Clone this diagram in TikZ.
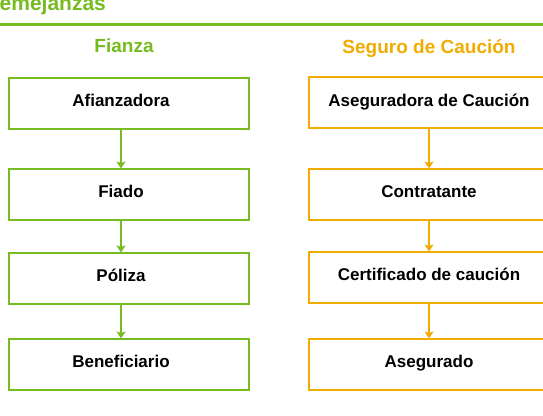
\documentclass[tikz,border=0pt]{standalone}
\usepackage{fontspec}
\setmainfont{Liberation Sans}
\usetikzlibrary{arrows.meta}
\definecolor{fianzagreen}{RGB}{118,188,33}
\definecolor{caugold}{RGB}{240,172,0}
\begin{document}
\begin{tikzpicture}[x=1pt, y=-1pt, >={Stealth[length=7pt, width=9pt, inset=1.5pt]},
    box/.style={rectangle, draw, line width=2pt, minimum width=240pt, minimum height=51pt, inner sep=0pt},
    link/.style={->, line width=2.4pt, shorten >=-1pt},
    txt/.style={anchor=base, inner sep=0pt, font=\bfseries\fontsize{17}{20}\selectfont},
    head/.style={anchor=base, inner sep=0pt, font=\bfseries\fontsize{19}{22}\selectfont}]
    \useasboundingbox (0,0) rectangle (543,415);
    \clip (0,0) rectangle (543,415);
    % title
    \node[anchor=base west, inner sep=0pt, text=fianzagreen, font=\bfseries\fontsize{21}{24}\selectfont] (title) at (-14.5,10) {Semejanzas};
    \draw[fianzagreen, line width=2.5pt] (0,24.5) coordinate (l) -- (543,24.5) coordinate (r);
    % Fianza
    \node[head, text=fianzagreen] (fh) at (124,52) {Fianza};
    \node[box, draw=fianzagreen] (f1) at (128.5,103) {};
    \node[box, draw=fianzagreen] (f2) at (128.5,194) {};
    \node[box, draw=fianzagreen] (f3) at (128.5,278) {};
    \node[box, draw=fianzagreen] (f4) at (128.5,364) {};
    \node[txt] (fa) at (121,106) {Afianzadora};
    \node[txt] (fb) at (121,197) {Fiado};
    \node[txt] (fc) at (121,281.5) {Póliza};
    \node[txt] (fd) at (121,367.5) {Beneficiario};
    \draw[link, fianzagreen] (f1.south -| fa) -- (f2.north -| fa);
    \draw[link, fianzagreen] (f2.south -| fa) -- (f3.north -| fa);
    \draw[link, fianzagreen] (f3.south -| fa) -- (f4.north -| fa);
    % Seguro de Caucion
    \node[head, text=caugold] (sh) at (429,53) {Seguro de Caución};
    \node[box, draw=caugold] (s1) at (429,102.5) {};
    \node[box, draw=caugold] (s2) at (429,194) {};
    \node[box, draw=caugold] (s3) at (429,277) {};
    \node[box, draw=caugold] (s4) at (429,364) {};
    \node[txt] (sa) at (429,106) {Aseguradora de Caución};
    \node[txt] (sb) at (429,197) {Contratante};
    \node[txt] (sc) at (429,280.5) {Certificado de caución};
    \node[txt] (sd) at (429,367) {Asegurado};
    \draw[link, caugold] (s1.south -| sa) -- (s2.north -| sa);
    \draw[link, caugold] (s2.south -| sa) -- (s3.north -| sa);
    \draw[link, caugold] (s3.south -| sa) -- (s4.north -| sa);
\end{tikzpicture}
\end{document}
